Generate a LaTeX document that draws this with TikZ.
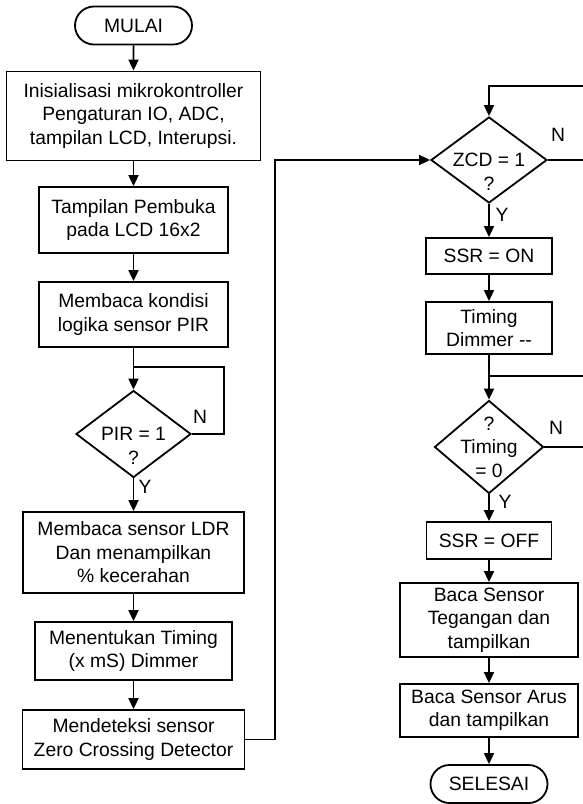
\documentclass[tikz,border=0pt]{standalone}
\usepackage{fontspec}
\setmainfont{Liberation Sans}
\usetikzlibrary{shapes.geometric, shapes.misc, arrows.meta}

\begin{document}
\begin{tikzpicture}[x=1pt, y=-1pt, >={Triangle[length=11pt, width=10pt]}, line width=1.8pt,
        font=\fontsize{19.3}{23.5}\selectfont,
        proses/.style={draw, rectangle, align=center, inner sep=0pt},
        terminal/.style={draw, rounded rectangle, minimum width=117pt, minimum height=38pt, inner sep=0pt},
        keputusan/.style={draw, diamond, inner sep=0pt},
        teks/.style={align=center, inner sep=0pt}]
        \useasboundingbox (0, 0) rectangle (582, 804);
        % kolom kiri
        \node[terminal] (mulai) at (133.5, 25.5) {MULAI};
        \node[proses, minimum width=254pt, minimum height=89pt] (init) at (133.5, 116) {Inisialisasi mikrokontroller\\Pengaturan IO, ADC,\\tampilan LCD, Interupsi.};
        \node[proses, minimum width=189pt, minimum height=66pt] (pembuka) at (133.5, 220) {Tampilan Pembuka\\pada LCD 16x2};
        \node[proses, minimum width=189pt, minimum height=65pt] (kondisi) at (133.5, 314.5) {Membaca kondisi\\logika sensor PIR};
        \node[keputusan, minimum width=115pt, minimum height=87pt] (pir) at (133.5, 434) {};
        \node[teks] (pirtxt) at (133.5, 446) {PIR = 1\\?};
        \node[proses, minimum width=221pt, minimum height=81pt] (ldr) at (133.5, 552.5) {Membaca sensor LDR\\Dan menampilkan\\\% kecerahan};
        \node[proses, minimum width=197pt, minimum height=58pt] (timing) at (133.5, 651) {Menentukan Timing\\(x mS) Dimmer};
        \node[proses, minimum width=222pt, minimum height=59pt] (deteksi) at (133.5, 739.5) {Mendeteksi sensor\\Zero Crossing Detector};
        \node (pirn) at (200, 417) {N};
        \node (piry) at (145, 487) {Y};
        % kolom kanan
        \node[keputusan, minimum width=116pt, minimum height=86pt] (zcd) at (489, 160) {};
        \node[teks] (zcdtxt) at (489, 172) {ZCD = 1\\?};
        \node[proses, minimum width=126pt, minimum height=36pt] (ssron) at (489, 256) {SSR = ON};
        \node[proses, minimum width=126pt, minimum height=52pt] (dimmer) at (489, 328) {Timing\\Dimmer -{}-};
        \node[keputusan, minimum width=109pt, minimum height=93pt] (nol) at (489, 447) {};
        \node[teks] (noltxt) at (489, 447) {?\\Timing\\= 0};
        \node[proses, minimum width=125pt, minimum height=37pt] (ssroff) at (489, 540.5) {SSR = OFF};
        \node[proses, minimum width=178pt, minimum height=74pt] (tegangan) at (489, 620) {Baca Sensor\\Tegangan dan\\tampilkan};
        \node[proses, minimum width=178pt, minimum height=53pt] (arus) at (489, 710.5) {Baca Sensor Arus\\dan tampilkan};
        \node[terminal] (selesai) at (489, 784) {SELESAI};
        \node (zcdn) at (558, 135) {N};
        \node (zcdy) at (502, 215) {Y};
        \node (noln) at (556, 428) {N};
        \node (noly) at (505, 502) {Y};
        % titik belok
        \coordinate (pirloop) at (224, 367);
        \coordinate (pirjoin) at (133.5, 367);
        \coordinate (jalur) at (275, 160);
        \coordinate (zcdjoin) at (489, 86);
        \coordinate (zcdatas) at (590, 86);
        \coordinate (zcdkanan) at (590, 160);
        \coordinate (noljoin) at (489, 376);
        \coordinate (nolatas) at (590, 376);
        \coordinate (nolkanan) at (590, 447);
        % garis alir
        \draw[->] (mulai) -- (init);
        \draw[->] (init) -- (pembuka);
        \draw[->] (pembuka) -- (kondisi);
        \draw[->] (kondisi) -- (pir);
        \draw (pir.east) -| (pirloop) -- (pirjoin);
        \draw[->] (pir) -- (ldr);
        \draw[->] (ldr) -- (timing);
        \draw[->] (timing) -- (deteksi);
        \draw[->] (deteksi.east) -| (jalur) -- (zcd.west);
        \draw[->] (zcdatas) -- (zcdjoin) -- (zcd);
        \draw (zcd.east) -- (zcdkanan);
        \draw[->] (zcd) -- (ssron);
        \draw[->] (ssron) -- (dimmer);
        \draw[->] (dimmer) -- (nol);
        \draw (nolatas) -- (noljoin);
        \draw (nol.east) -- (nolkanan);
        \draw[->] (nol) -- (ssroff);
        \draw[->] (ssroff) -- (tegangan);
        \draw[->] (tegangan) -- (arus);
        \draw[->] (arus) -- (selesai);
\end{tikzpicture}
\end{document}
